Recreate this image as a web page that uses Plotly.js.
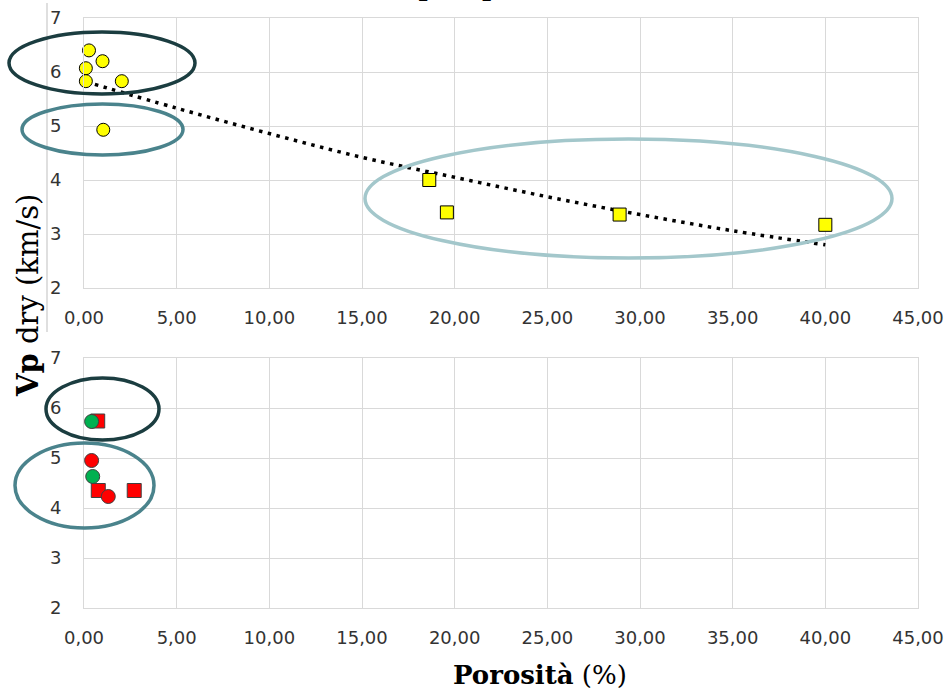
<!DOCTYPE html>
<html><head><meta charset="utf-8">
<script src="https://cdn.plot.ly/plotly-3.0.1.min.js"></script>
<style>html,body{margin:0;padding:0;background:#fff}#chart{width:946px;height:690px}</style>
</head><body><div id="chart"></div>
<script>
// ---- data ----
const topCircleX = [0.27, 1.0, 0.1, 0.1, 2.04, 1.04];
const topCircleY = [6.40, 6.20, 6.07, 5.83, 5.83, 4.93];
const topSquareX = [18.63, 19.58, 28.9, 40.0];
const topSquareY = [4.0, 3.40, 3.36, 3.17];
const trendX = [0.1, 5, 10, 15, 20, 25, 30, 35, 40];
const trendY = [5.82, 5.33, 4.86, 4.42, 4.05, 3.69, 3.36, 3.06, 2.80];
const redSquareX = [0.74, 0.77, 2.71];
const redSquareY = [5.74, 4.35, 4.35];
const redCircleX = [0.41, 1.31];
const redCircleY = [4.95, 4.23];
const greenCircleX = [0.41, 0.47];
const greenCircleY = [5.73, 4.63];
const xTicks = [0, 5, 10, 15, 20, 25, 30, 35, 40, 45];
const yTicks = [2, 3, 4, 5, 6, 7];
const chartTitle = 'Vp vs porosità';
const yTitle = '<b>Vp</b> dry (km/s)';
const xTitleBold = 'Porosità';
const xTitleRest = '(%)';

// ---- geometry helpers (pixel -> paper) ----
const W = 946, H = 690, L = 84, R = 28, T = 18, B = 82;
const PW = W - L - R, PH = H - T - B;
const px = v => (v - L) / PW;
const py = v => (H - B - v) / PH;

const tickFont = {family: 'DejaVu Sans', size: 18, color: '#333333'};
function xAx(anchor) {
  return {anchor: anchor, range: [0, 45], tickvals: xTicks, tickformat: '.2f',
    showgrid: true, gridcolor: '#D9D9D9', gridwidth: 1, zeroline: false,
    showline: true, linecolor: '#D9D9D9', linewidth: 1, mirror: true,
    ticks: '', ticklabelstandoff: 13, tickfont: tickFont};
}
function yAx(anchor, domain) {
  return {anchor: anchor, domain: domain, range: [2, 7], tickvals: yTicks,
    showgrid: true, gridcolor: '#D9D9D9', gridwidth: 1, zeroline: false,
    showline: true, linecolor: '#D9D9D9', linewidth: 1, mirror: true,
    ticks: '', ticklabelstandoff: 18, tickfont: tickFont};
}

const darkOut = {color: '#404040', width: 1};
const traces = [
  {x: trendX, y: trendY, xaxis: 'x', yaxis: 'y', mode: 'lines', type: 'scatter',
   line: {color: '#000000', width: 3.5, dash: '3.5px,5.5px', shape: 'spline'}, hoverinfo: 'skip'},
  {x: topCircleX, y: topCircleY, xaxis: 'x', yaxis: 'y', mode: 'markers', type: 'scatter', cliponaxis: false,
   marker: {symbol: 'circle', size: 13, color: '#FFFF00', line: {color: '#000000', width: 1}}},
  {x: topSquareX, y: topSquareY, xaxis: 'x', yaxis: 'y', mode: 'markers', type: 'scatter', cliponaxis: false,
   marker: {symbol: 'square', size: 13, color: '#FFFF00', line: {color: '#000000', width: 1}}},
  {x: redSquareX, y: redSquareY, xaxis: 'x2', yaxis: 'y2', mode: 'markers', type: 'scatter', cliponaxis: false,
   marker: {symbol: 'square', size: 14, color: '#FF0000', line: darkOut}},
  {x: redCircleX, y: redCircleY, xaxis: 'x2', yaxis: 'y2', mode: 'markers', type: 'scatter', cliponaxis: false,
   marker: {symbol: 'circle', size: 14, color: '#FF0000', line: darkOut}},
  {x: greenCircleX, y: greenCircleY, xaxis: 'x2', yaxis: 'y2', mode: 'markers', type: 'scatter', cliponaxis: false,
   marker: {symbol: 'circle', size: 14, color: '#00B050', line: darkOut}}
];

function ellipse(x0, y0, x1, y1, color) {
  return {type: 'circle', xref: 'paper', yref: 'paper', x0: px(x0), x1: px(x1),
    y0: py(y1), y1: py(y0), line: {color: color, width: 3.5}, layer: 'above'};
}

const layout = {
  width: W, height: H, autosize: false, showlegend: false,
  margin: {l: L, r: R, t: T, b: B, pad: 0},
  paper_bgcolor: '#FFFFFF', plot_bgcolor: '#FFFFFF',
  separators: ',.',
  xaxis: xAx('y'),
  yaxis: yAx('x', [py(288), 1]),
  xaxis2: xAx('y2'),
  yaxis2: yAx('x2', [0, py(358)]),
  shapes: [
    {type: 'line', xref: 'paper', yref: 'paper', x0: px(47), x1: px(47), y0: py(3), y1: py(332),
     line: {color: '#BFBFBF', width: 1}},
    ellipse(9, 32, 195, 94, '#1B3D40'),
    ellipse(22, 104, 183, 155, '#4A838C'),
    ellipse(365, 139, 892, 258, '#A3C7CB'),
    ellipse(46, 378, 159, 440, '#1B3D40'),
    ellipse(15, 443, 154, 528, '#4A838C')
  ],
  annotations: [
    {text: '<b>' + chartTitle + '</b>', xref: 'paper', yref: 'paper', x: px(497), y: py(4),
     xanchor: 'center', yanchor: 'bottom', showarrow: false,
     font: {family: 'DejaVu Serif', size: 25, color: '#000000'}},
    {text: yTitle, xref: 'paper', yref: 'paper', x: px(28), y: py(296), textangle: -90,
     xanchor: 'center', yanchor: 'middle', showarrow: false,
     font: {family: 'DejaVu Serif', size: 29, color: '#000000'}},
    {text: '<b>' + xTitleBold + '</b> ' + xTitleRest, xref: 'paper', yref: 'paper', x: px(540), y: py(675),
     xanchor: 'center', yanchor: 'middle', showarrow: false,
     font: {family: 'DejaVu Serif', size: 26, color: '#000000'}}
  ]
};

Plotly.newPlot('chart', traces, layout, {displayModeBar: false, staticPlot: true});
</script>
</body></html>
